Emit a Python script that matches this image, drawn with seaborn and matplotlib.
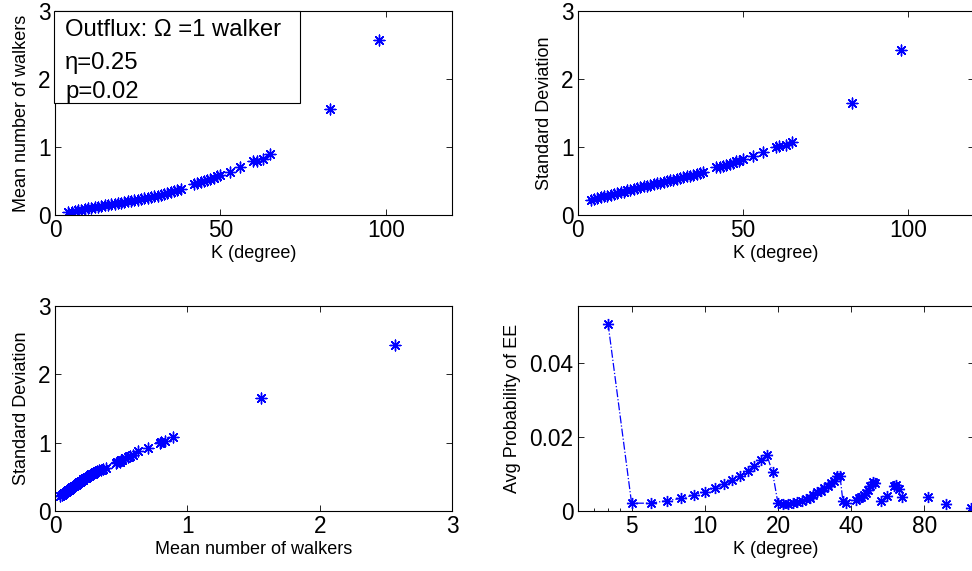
import matplotlib
matplotlib.use("Agg")
import matplotlib.pyplot as plt
import matplotlib.patches as mpatches
from matplotlib.ticker import FixedLocator, FixedFormatter, NullFormatter
import numpy as np
import pandas as pd
import seaborn as sns

# ---------------- data ----------------
k_degree = [4, 5, 6, 7, 8, 9, 10, 11, 12, 13, 14, 15, 16, 17, 18, 19, 20, 21,
            22, 23, 24, 25, 26, 27, 28, 29, 30, 31, 32, 33, 34, 35, 36, 37, 38,
            42, 43, 44, 45, 46, 47, 48, 49, 50, 53, 56, 60, 61, 63, 65, 83, 98]
mean_walkers = [0.04, 0.05, 0.06, 0.07, 0.08, 0.09, 0.10, 0.105, 0.115, 0.12,
                0.13, 0.14, 0.145, 0.155, 0.165, 0.17, 0.18, 0.19, 0.20, 0.21,
                0.215, 0.225, 0.235, 0.245, 0.255, 0.265, 0.275, 0.285, 0.295,
                0.305, 0.32, 0.335, 0.35, 0.365, 0.385,
                0.46, 0.47, 0.49, 0.50, 0.51, 0.53, 0.55, 0.57, 0.59,
                0.63, 0.70, 0.79, 0.80, 0.83, 0.89, 1.56, 2.57]
std_walkers = [0.22, 0.235, 0.25, 0.26, 0.275, 0.285, 0.30, 0.31, 0.325, 0.335,
               0.345, 0.36, 0.37, 0.38, 0.395, 0.405, 0.42, 0.43, 0.44, 0.45,
               0.465, 0.475, 0.485, 0.50, 0.51, 0.52, 0.535, 0.545, 0.555,
               0.57, 0.58, 0.595, 0.605, 0.62, 0.635,
               0.70, 0.71, 0.72, 0.74, 0.75, 0.77, 0.79, 0.80, 0.82,
               0.87, 0.92, 1.00, 1.01, 1.03, 1.08, 1.65, 2.42]

k_ee = [4, 5, 6, 7, 8, 9, 10, 11, 12, 13, 14, 15, 16, 17, 18, 19, 20, 21,
        22, 23, 24, 25, 26, 27, 28, 29, 30, 31, 32, 33, 34, 35, 36, 37, 38,
        42, 43, 44, 45, 46, 47, 48, 49, 50, 53, 56, 60, 61, 63, 65, 83, 98, 125]
p_ee = [0.0505, 0.0021, 0.0021, 0.0028, 0.0034, 0.0043, 0.0052, 0.0061,
        0.0072, 0.0083, 0.0095, 0.0108, 0.0122, 0.0137, 0.0151, 0.0104,
        0.0021, 0.0018, 0.0020, 0.0022, 0.0025, 0.0028, 0.0031, 0.0036,
        0.0042, 0.0052, 0.0054, 0.0062, 0.0068, 0.0075, 0.0082, 0.0094,
        0.0094, 0.0026, 0.0022,
        0.0030, 0.0034, 0.0038, 0.0043, 0.0048, 0.0056, 0.0066, 0.0078, 0.0076,
        0.0026, 0.0040, 0.0068, 0.0070, 0.0060, 0.0037, 0.0037, 0.0018, 0.0007]

info_lines = ["Outflux: \u03a9 =1 walker", "\u03b7=0.25", "p=0.02"]

# ---------------- style ----------------
sns.set_theme(style="white")
plt.rcParams["font.family"] = ["Liberation Sans", "DejaVu Sans"]
plt.rcParams["text.color"] = "black"
plt.rcParams["axes.labelcolor"] = "black"
plt.rcParams["xtick.color"] = "black"
plt.rcParams["ytick.color"] = "black"

TICK_FS = 16.3
LABEL_FS = 13
BLUE = (0, 0, 1)
AST = (8, 2, 0)

fig = plt.figure(figsize=(9.72, 5.71), dpi=100)
ax1 = fig.add_axes([0.0566, 0.6235, 0.4084, 0.3573])
ax2 = fig.add_axes([0.5943, 0.6235, 0.4077, 0.3573])
ax3 = fig.add_axes([0.0566, 0.1051, 0.4084, 0.3595])
ax4 = fig.add_axes([0.5943, 0.1051, 0.4077, 0.3595])

df = pd.DataFrame({"K": k_degree, "mean": mean_walkers, "std": std_walkers})

sc_kw = dict(marker=AST, s=60, color=BLUE, linewidth=1.0, legend=False)
sns.scatterplot(data=df, x="K", y="mean", ax=ax1, **sc_kw)
sns.scatterplot(data=df, x="K", y="std", ax=ax2, **sc_kw)
sns.scatterplot(data=df, x="mean", y="std", ax=ax3, **sc_kw)

df4 = pd.DataFrame({"K": k_ee, "p": p_ee})
df4["seg"] = (df4["K"].diff() != 1).cumsum()
sns.lineplot(data=df4, x="K", y="p", units="seg", estimator=None, sort=False,
             ax=ax4, color=BLUE, linestyle="-.", linewidth=0.9,
             marker=AST, markersize=8, markeredgewidth=1.0,
             markeredgecolor=BLUE, legend=False)

for ax in (ax1, ax2, ax3, ax4):
    for sp in ax.spines.values():
        sp.set_visible(True)
        sp.set_color("black")
        sp.set_linewidth(0.8)
    ax.tick_params(direction="in", length=4, width=0.6, top=True, right=True,
                   bottom=True, left=True, labelsize=TICK_FS, colors="black",
                   pad=3)
    ax.grid(False)

for ax in (ax1, ax2):
    ax.set_xlim(0, 120)
    ax.set_ylim(0, 3)
    ax.set_xticks([0, 50, 100])
    ax.set_yticks([0, 1, 2, 3])
    ax.set_xlabel("K (degree)", fontsize=LABEL_FS, labelpad=2)
ax1.set_ylabel("Mean number of walkers", fontsize=LABEL_FS, labelpad=6)
ax2.set_ylabel("Standard Deviation", fontsize=LABEL_FS, labelpad=6)

ax3.set_xlim(0, 3)
ax3.set_ylim(0, 3)
ax3.set_xticks([0, 1, 2, 3])
ax3.set_yticks([0, 1, 2, 3])
ax3.set_xlabel("Mean number of walkers", fontsize=LABEL_FS, labelpad=2)
ax3.set_ylabel("Standard Deviation", fontsize=LABEL_FS, labelpad=6)

ax4.set_xscale("log")
ax4.set_xlim(3, 128)
ax4.set_ylim(0, 0.0553)
ax4.xaxis.set_major_locator(FixedLocator([5, 10, 20, 40, 80]))
ax4.xaxis.set_major_formatter(FixedFormatter(["5", "10", "20", "40", "80"]))
ax4.xaxis.set_minor_locator(FixedLocator([3.5, 4, 4.5]))
ax4.xaxis.set_minor_formatter(NullFormatter())
ax4.tick_params(axis="x", which="minor", direction="in", length=2.5,
                width=0.6, top=False, bottom=True)
ax4.set_yticks([0, 0.02, 0.04])
ax4.set_yticklabels(["0", "0.02", "0.04"])
ax4.set_xlabel("K (degree)", fontsize=LABEL_FS, labelpad=2)
ax4.set_ylabel("Avg Probability of EE", fontsize=LABEL_FS, labelpad=6)

# info box in the first panel
box = mpatches.Rectangle((-0.002, 0.549), 0.619, 0.451, transform=ax1.transAxes,
                         facecolor="white", edgecolor="black", linewidth=0.8,
                         zorder=5, clip_on=False)
ax1.add_patch(box)
for txt, yy in zip(info_lines, [0.905, 0.745, 0.603]):
    ax1.text(0.025, yy, txt, transform=ax1.transAxes, fontsize=17.2,
             va="center", ha="left", zorder=6, color="black")

fig.savefig("out.png", dpi=100, facecolor="white")
